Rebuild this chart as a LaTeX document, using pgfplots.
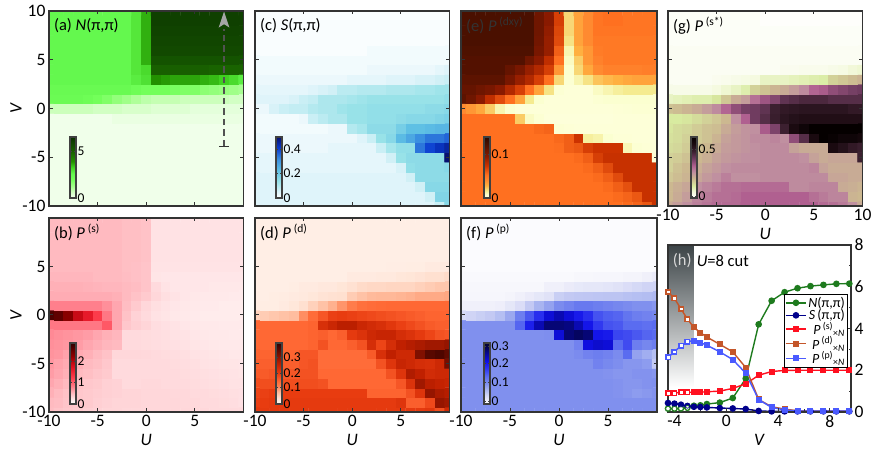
\documentclass[border=0pt]{standalone}
\usepackage{fontspec}
\setmainfont{Carlito}
\usepackage{pgfplots}
\usepackage{pgfplotstable}
\pgfplotsset{compat=1.18}
% cell values: rows V=10 ... -10, columns U=-10 ... 10 (colour levels)
\pgfplotstableread[header=false]{
26 26 26 26 26 26 26 26 26 29 36 60 60 60 60 60 60 60 60 60 60
26 26 26 26 26 26 26 26 26 29 36 60 60 60 60 60 60 60 60 60 60
26 26 26 26 26 26 26 26 26 29 36 59 59 59 59 59 59 59 59 59 59
26 26 26 26 26 26 26 26 26 29 36 58 58 58 58 58 58 58 58 58 58
26 26 26 26 26 26 26 26 26 29 36 57 57 57 57 57 57 57 57 57 57
26 26 26 26 26 26 26 26 26 29 36 54 54 54 54 54 54 54 54 54 54
26 26 26 26 26 26 26 26 26 29 31 50 50 50 50 50 50 49 49 49 49
26 26 26 26 26 26 26 26 26 28 30 39 38 37 37 37 36 35 33 31 28
24 24 24 24 24 24 24 24 24 22 20 20 20 19 18 18 16 15 14 13 12
23 23 23 23 22 20 18 15 13 11 9 8 8 8 7 7 7 7 7 6 6
7 7 7 7 7 6 6 6 5 5 5 4 4 4 4 3 3 3 3 3 3
1 1 1 1 1 1 1 2 2 2 2 2 2 2 2 2 2 2 2 2 2
1 1 1 1 1 1 1 1 1 1 1 1 1 1 1 1 1 1 1 1 1
1 1 1 1 1 1 1 1 1 1 1 1 1 1 1 1 1 1 1 1 1
1 1 1 1 1 1 1 1 1 1 1 1 1 1 1 1 1 1 1 1 1
1 1 1 1 1 1 1 1 1 1 1 1 1 1 1 1 1 1 1 1 1
1 1 1 1 1 1 1 1 1 1 1 1 1 1 1 1 1 1 1 1 1
1 1 1 1 1 1 1 1 1 1 1 1 1 1 1 1 1 1 1 1 1
1 1 1 1 1 1 1 1 1 1 1 1 1 1 1 1 1 1 1 1 1
1 1 1 1 1 1 1 1 1 1 1 1 1 1 1 1 1 1 1 1 1
1 1 1 1 1 1 1 1 1 1 1 1 1 1 1 1 1 1 1 1 1
}\tA
\pgfplotstableread[header=false]{
50 50 50 50 50 50 50 50 47 47 45 25 25 25 25 25 25 25 25 25 25
50 50 50 50 50 50 50 50 47 47 45 25 25 25 25 25 25 25 25 25 25
50 50 50 50 50 50 50 50 47 47 45 25 25 25 25 25 25 25 25 25 25
50 50 50 50 50 50 50 50 47 47 45 25 25 25 25 25 25 25 25 25 25
50 50 50 50 50 50 50 50 47 47 45 25 25 25 25 25 25 25 25 25 25
50 50 50 50 50 50 50 50 47 46 44 24 24 24 24 24 24 24 24 24 24
52 52 52 52 52 50 50 50 48 46 44 23 22 22 22 22 22 22 22 22 22
55 55 55 55 54 53 52 52 50 48 44 30 24 22 22 22 22 21 21 21 21
57 57 57 57 57 57 57 55 50 45 40 32 27 24 22 21 20 20 20 19 19
80 80 80 80 80 80 72 60 48 40 32 27 24 22 21 20 19 19 18 18 18
260 250 225 185 160 125 85 60 45 35 30 25 23 21 20 19 18 18 18 18 18
85 85 85 85 85 85 105 60 42 37 33 28 26 24 22 21 20 20 19 19 19
75 72 70 68 65 60 55 52 30 30 29 28 27 25 24 22 21 20 20 19 19
72 70 68 65 60 56 52 50 30 30 29 28 27 26 25 23 22 21 20 20 20
70 68 62 58 55 50 45 32 32 32 31 30 29 28 27 25 24 23 22 21 21
68 62 58 55 50 47 42 30 30 30 30 30 30 29 28 27 25 24 23 23 22
65 60 55 50 47 43 40 30 30 30 30 30 30 30 29 28 27 26 25 24 23
60 55 50 45 42 40 36 35 30 30 31 31 30 30 30 29 28 27 26 25 25
55 50 45 42 40 38 36 35 33 33 32 32 32 31 31 30 30 29 28 27 26
50 48 44 42 40 37 35 33 33 33 32 32 32 32 31 31 30 30 29 28 26
48 44 42 40 37 35 33 33 32 32 32 32 32 32 32 31 31 30 30 30 30
}\tB
\pgfplotstableread[header=false]{
1 1 1 1 1 1 1 1 1 1 1 1 1 1 1 1 1 1 1 1 1
1 1 1 1 1 1 1 1 1 1 1 1 1 1 1 1 1 1 1 1 1
1 1 1 1 1 1 1 1 1 1 1 1 1 1 1 1 1 1 1 1 1
1 1 1 1 1 1 1 1 1 1 1 1 1 1 1 1 1 1 1 1 1
1 1 1 1 1 1 1 1 1 1 1 1 2 2 2 2 2 2 2 2 2
2 2 2 2 2 2 2 2 2 2 2 2 2 2 2 2 2 2 2 2 2
2 2 2 2 2 2 2 2 2 2 2 2 3 3 3 3 3 3 3 4 5
3 3 3 3 3 3 3 3 3 3 4 4 4 4 5 5 5 6 6 7 8
4 4 4 4 4 4 5 6 7 10 10 11 11 11 12 12 12 13 13 14 14
5 5 5 5 6 8 9 12 12 12 13 14 15 15 15 15 15 15 15 15 16
3 3 6 8 9 9 11 12 12 14 15 15 16 16 16 16 16 16 17 17 18
2 2 2 2 2 3 8 10 12 12 15 15 16 16 16 17 18 18 18 19 20
2 2 2 2 2 2 2 2 3 3 11 13 17 17 17 21 25 25 26 27 27
3 3 3 3 3 3 3 3 3 3 3 5 8 15 18 26 30 35 38 38 40
3 3 3 3 3 3 3 3 4 4 4 4 4 8 13 16 16 38 44 47 50
4 4 4 4 4 4 4 4 4 4 4 4 4 4 7 15 17 17 17 17 55
4 4 4 4 4 4 4 4 4 4 4 4 4 4 4 6 16 17 17 17 18
5 5 5 5 5 5 5 5 5 5 5 5 5 5 5 5 7 17 17 17 17
5 5 5 5 5 5 5 5 5 5 5 5 5 5 5 5 5 7 18 18 18
5 5 5 5 5 5 5 5 5 5 5 5 5 5 5 5 5 5 7 19 19
5 5 5 5 5 5 5 5 5 5 5 5 5 5 5 5 5 5 5 8 18
}\tC
\pgfplotstableread[header=false]{
20 20 20 20 20 20 20 20 20 20 20 20 20 20 20 20 20 20 20 20 20
20 20 20 20 20 20 20 20 20 20 20 20 20 20 20 20 20 20 20 20 20
20 20 20 20 20 20 20 20 20 20 20 20 20 20 20 20 20 20 20 20 20
20 20 20 20 20 20 20 20 20 20 20 20 20 20 20 20 20 20 20 20 20
20 20 20 20 20 20 20 20 20 20 20 20 20 20 20 20 20 20 20 20 20
20 20 20 20 20 20 20 20 20 20 20 20 20 20 21 21 22 22 25 25 25
20 20 20 20 20 20 20 20 20 20 25 25 25 27 27 30 32 35 40 40 45
20 20 20 20 22 25 25 28 28 32 38 45 48 48 50 50 50 55 60 65 65
20 20 22 23 25 27 30 35 38 40 60 70 78 80 80 82 85 90 90 90 92
22 22 22 25 30 40 55 70 85 105 125 140 145 148 150 150 150 150 150 150 150
55 60 65 70 75 110 145 170 195 200 195 190 185 180 175 170 165 160 155 155 155
150 150 150 150 150 150 155 225 245 265 265 245 235 225 210 195 185 175 165 160 160
150 150 150 150 150 150 155 160 150 160 205 220 240 250 250 230 220 205 190 175 170
150 150 150 150 150 150 155 175 150 150 160 175 230 190 230 260 270 280 290 290 300
155 155 155 155 155 170 170 145 145 145 145 145 165 225 260 240 240 320 360 370 350
160 160 160 160 160 170 175 145 145 145 145 145 145 175 215 250 240 230 225 240 330
165 165 170 170 170 175 175 150 150 150 150 150 150 150 175 215 275 260 235 240 240
180 180 180 180 180 180 180 175 150 150 150 150 150 150 150 170 220 290 265 255 250
190 195 200 200 200 200 200 200 200 200 200 200 155 155 155 155 175 215 300 280 270
195 200 205 205 205 205 205 205 205 205 205 205 205 205 205 215 160 160 185 300 290
205 205 205 205 205 205 205 205 205 205 205 205 205 205 205 205 205 205 210 180 240
}\tD
\pgfplotstableread[header=false]{
150 150 150 150 150 150 150 150 130 115 85 25 40 50 62 65 65 62 62 62 62
150 150 150 150 150 150 150 150 130 115 85 25 40 50 62 65 65 62 62 62 62
150 150 150 150 150 150 150 150 130 112 82 25 40 50 62 62 62 62 62 62 62
150 150 150 150 150 150 150 150 128 110 80 22 40 50 60 60 60 60 60 60 60
148 148 148 148 148 148 148 148 125 110 72 15 35 45 58 60 60 60 60 60 60
145 145 145 145 145 145 145 130 115 95 65 12 28 45 55 60 60 60 60 60 60
145 145 145 145 145 135 125 110 100 85 45 10 25 38 50 55 55 55 55 57 57
140 140 140 140 140 125 110 100 85 65 25 8 15 22 30 33 35 38 40 40 40
135 135 130 125 115 100 85 65 40 22 8 5 5 5 12 15 18 20 20 20 20
140 130 115 95 80 65 40 20 10 5 5 5 5 5 8 10 10 10 10 10 10
50 45 38 28 15 10 5 5 5 5 5 5 5 5 5 5 6 7 8 8 8
65 65 65 65 65 65 28 12 8 4 4 4 4 4 4 4 5 5 5 5 5
65 65 65 65 65 65 65 65 68 70 8 6 5 5 5 5 5 5 5 5 5
65 65 65 65 65 65 65 65 65 65 68 72 90 18 16 10 6 6 5 5 5
65 65 65 65 65 65 65 65 65 65 66 72 75 85 90 90 90 14 8 6 5
65 65 65 65 65 65 65 65 65 65 65 65 67 72 85 92 92 92 92 92 6
65 65 65 65 65 65 65 65 65 65 65 65 65 67 72 80 92 92 92 92 92
65 65 65 65 65 65 65 65 65 65 65 65 65 65 67 72 80 92 92 92 92
65 65 65 65 65 65 65 65 65 65 65 65 65 65 65 67 72 78 92 92 92
65 65 65 65 65 65 65 65 65 65 65 65 65 65 65 65 67 70 75 92 92
65 65 65 65 65 65 65 65 65 65 65 65 65 65 65 65 65 67 70 75 92
}\tE
\pgfplotstableread[header=false]{
5 5 5 5 5 5 5 5 5 5 5 5 5 5 5 5 5 5 5 5 5
5 5 5 5 5 5 5 5 5 5 5 5 5 5 5 5 5 5 5 5 5
5 5 5 5 5 5 5 5 5 5 5 5 5 5 5 5 5 5 5 5 5
5 5 5 5 5 5 5 5 5 5 5 5 5 5 5 5 5 5 5 5 5
5 5 5 5 5 5 5 5 5 5 5 5 5 5 5 5 5 5 5 5 5
5 5 5 5 5 5 5 5 5 5 5 5 5 5 5 5 5 5 5 5 5
8 8 8 8 8 8 8 8 8 8 8 8 10 10 12 12 12 15 15 20 25
10 10 10 10 10 10 10 10 10 20 20 25 28 30 30 32 35 40 45 50 50
12 12 12 12 12 15 20 25 30 35 55 60 62 63 64 65 65 68 70 72 75
20 20 20 20 22 30 40 60 80 95 115 125 135 135 130 125 120 115 110 110 105
45 50 55 60 70 90 130 165 200 240 260 240 220 200 170 160 155 140 130 125 120
110 110 110 110 110 110 155 215 260 290 290 285 260 225 190 170 165 150 150 145 150
110 110 110 110 110 110 110 110 110 112 240 290 300 290 225 220 180 175 165 155 150
110 110 110 110 110 110 110 110 110 110 110 110 125 235 245 240 150 175 130 120 130
110 110 110 110 110 110 110 110 110 110 110 110 115 125 130 125 115 150 95 85 70
110 110 110 110 110 110 110 110 110 110 110 110 110 110 125 118 112 105 105 100 60
110 110 110 110 110 110 110 110 110 110 110 110 110 110 110 108 105 105 108 108 105
110 110 110 110 110 110 110 110 110 110 110 110 110 110 110 110 108 105 105 108 110
110 110 110 110 110 110 110 110 110 110 110 110 110 110 110 110 108 105 100 103 108
110 110 110 110 110 110 110 110 110 110 110 110 110 110 110 110 110 110 110 110 110
110 110 110 110 110 110 110 110 110 110 110 110 110 110 110 110 110 110 110 110 110
}\tF
\pgfplotstableread[header=false]{
2 2 2 2 2 2 2 2 2 2 1 1 1 1 1 1 1 1 1 1 1
2 2 2 2 2 2 2 2 2 2 1 1 1 1 1 1 1 1 1 1 1
2 2 2 2 2 2 2 2 2 2 2 2 2 2 2 2 2 2 2 2 2
2 2 2 2 2 2 2 2 2 2 2 2 2 2 2 2 2 2 2 2 2
3 3 3 3 3 3 3 3 3 3 3 3 3 3 3 3 3 3 3 3 3
3 3 3 3 3 3 3 3 3 3 3 3 3 3 3 3 3 3 3 3 3
3 3 3 3 3 3 3 3 3 3 3 3 4 4 5 5 5 6 7 9 10
3 3 3 3 3 4 5 6 7 8 12 12 12 13 14 15 16 22 24 26 28
6 6 6 6 6 8 10 12 15 22 25 28 30 33 37 44 46 50 52 54 55
12 13 14 15 15 18 24 30 33 42 48 52 58 60 62 62 62 60 60 60 60
25 26 28 30 33 37 44 50 54 55 58 65 68 69 70 70 70 70 70 68 68
17 17 18 20 22 24 27 36 45 55 60 66 70 72 73 73 73 73 73 73 73
18 20 21 23 25 26 30 33 35 36 46 53 65 75 80 85 85 85 85 85 85
19 20 22 23 25 28 32 34 35 37 37 38 36 50 60 75 85 83 80 80 78
20 21 23 25 27 30 33 34 35 36 37 37 37 32 30 30 30 75 72 68 66
22 23 25 27 29 32 34 35 36 36 37 37 37 37 36 32 30 31 31 31 65
22 25 27 29 32 34 36 37 37 37 37 37 37 37 37 38 32 30 30 30 30
24 26 28 31 34 36 39 36 36 36 37 37 37 37 37 37 37 31 31 30 30
27 29 31 36 38 40 42 42 43 43 43 43 43 37 37 38 38 38 30 29 28
27 30 33 38 40 42 42 43 45 45 45 45 45 45 45 42 40 38 38 28 27
30 33 36 39 41 43 43 43 45 45 45 45 45 45 45 45 43 42 40 36 30
}\tG
\newcommand\buildcoords[2]{%
  \gdef#2{}%
  \pgfplotsforeachungrouped \ri in {20,19,...,0}{%
    \pgfplotsforeachungrouped \ki in {0,...,20}{%
      \pgfplotstablegetelem{\ri}{[index]\ki}\of#1%
      \pgfmathtruncatemacro\xx{\ki-10}\pgfmathtruncatemacro\yy{10-\ri}%
      \xdef#2{#2 (\xx,\yy) [\pgfplotsretval]}%
    }}}
\buildcoords\tA\cA \buildcoords\tB\cB \buildcoords\tC\cC \buildcoords\tD\cD
\buildcoords\tE\cE \buildcoords\tF\cF \buildcoords\tG\cG
\newcommand\heat[1]{\edef\tmpplot{\noexpand\addplot[matrix plot*,mesh/cols=21,point meta=explicit] coordinates {#1};}\tmpplot}
\definecolor{frame}{HTML}{333333}
\definecolor{shadetop}{HTML}{3C4447}
\definecolor{cN}{HTML}{1E7B1E}
\definecolor{cS}{HTML}{00008B}
\definecolor{cPs}{HTML}{FF1020}
\definecolor{cPd}{HTML}{C4562A}
\definecolor{cPp}{HTML}{4A5AFF}
\newcommand\tk{\fontsize{17.5}{18}\selectfont}
\newcommand\ttl{\fontsize{16.5}{17}\selectfont}
\newcommand\cbf{\fontsize{13.5}{14}\selectfont}
\pgfplotsset{
 colormap={cmA}{rgb255(0)=(255,255,255) rgb255(1)=(240,255,234) rgb255(7)=(204,255,188) rgb255(13)=(160,255,136) rgb255(20)=(115,255,90) rgb255(26)=(100,248,78) rgb255(33)=(64,208,32) rgb255(39)=(34,144,0) rgb255(50)=(24,95,0) rgb255(60)=(15,64,0) rgb255(65)=(10,46,0)},
 colormap={cmB}{rgb255(0)=(255,255,255) rgb255(15)=(255,240,240) rgb255(25)=(255,226,228) rgb255(50)=(255,186,192) rgb255(80)=(255,127,140) rgb255(120)=(255,64,80) rgb255(170)=(224,16,32) rgb255(220)=(144,0,0) rgb255(280)=(48,0,0)},
 colormap={cmC}{rgb255(0)=(255,255,255) rgb255(5)=(223,244,250) rgb255(15)=(152,226,232) rgb255(25)=(95,192,228) rgb255(35)=(58,143,224) rgb255(45)=(10,60,208) rgb255(55)=(6,16,112)},
 colormap={cmD}{rgb255(0)=(255,250,246) rgb255(20)=(255,238,229) rgb255(40)=(255,224,208) rgb255(80)=(255,184,152) rgb255(120)=(255,128,80) rgb255(150)=(255,104,52) rgb255(200)=(232,60,16) rgb255(260)=(192,32,0) rgb255(320)=(128,16,0) rgb255(400)=(48,0,0)},
 colormap={cmE}{rgb255(0)=(255,255,224) rgb255(10)=(251,255,208) rgb255(20)=(245,235,144) rgb255(35)=(255,176,64) rgb255(50)=(255,138,48) rgb255(65)=(255,112,32) rgb255(90)=(204,51,0) rgb255(115)=(138,26,0) rgb255(150)=(74,16,0) rgb255(170)=(44,8,0)},
 colormap={cmF}{rgb255(0)=(255,255,255) rgb255(20)=(240,240,250) rgb255(50)=(208,212,245) rgb255(80)=(168,180,240) rgb255(110)=(128,144,238) rgb255(150)=(90,108,240) rgb255(190)=(48,56,240) rgb255(230)=(16,16,232) rgb255(270)=(8,8,160) rgb255(300)=(5,5,96) rgb255(330)=(2,2,48)},
 colormap={cmG}{rgb255(0)=(255,255,255) rgb255(8)=(245,250,224) rgb255(17)=(216,235,160) rgb255(27)=(204,184,144) rgb255(36)=(192,144,160) rgb255(45)=(176,96,144) rgb255(55)=(112,60,96) rgb255(65)=(60,32,48) rgb255(75)=(26,10,16) rgb255(85)=(5,0,0)},
 base/.style={scale only axis,axis on top,tick align=inside,
   axis line style={draw=frame,line width=1.2pt},
   tick style={draw=frame,line width=1pt},major tick length=3.5pt,
   tick label style={font=\tk},label style={font=\tk},
   /pgf/number format/assume math mode=true},
 hm/.style={base,width=194.5pt,height=195pt,xmin=-10,xmax=10,ymin=-10,ymax=10,
   xtick={-10,-5,0,5,10},ytick={-10,-5,0,5,10},
   xticklabels={},yticklabels={},
   ylabel style={at={(axis description cs:-0.17,0.5)},anchor=center}},
 xl/.style={xticklabels={-10,-5,0,5,},xlabel={\textit{U}},xtick pos=both},
 cbar/.style n args={4}{colorbar,point meta min=0,point meta max=#1,
   colorbar style={at={(parent axis.south west)},anchor=south west,
     xshift=#2,yshift=8pt,scale only axis,width=6pt,height=61pt,
     ytick={#3},yticklabels={#4},
     axis line style={draw=black!75,line width=1.3pt},
     tick style={draw=black!75,line width=.6pt},major tick length=2pt,tick align=inside,
     y tick label style={font=\cbf,inner xsep=1.5pt},
     /pgf/number format/assume math mode=true}},
}
\begin{document}
\begin{tikzpicture}[x=1pt,y=1pt]
\path[use as bounding box] (0,0) rectangle (872,460);
% (a)
\begin{axis}[hm,at={(49pt,254pt)},colormap name=cmA,cbar={65}{12.5pt}{0,50}{0,5},
  yticklabels={-10,-5,0,5,10},ylabel={\textit{V}}]
\heat\cA
\node[anchor=west,font=\ttl] at (rel axis cs:0.008,0.925) {(a) \textit{N}(π,π)};
\draw[frame!85,line width=1.5pt,dash pattern=on 6.5pt off 4pt] (axis cs:8,-3.85)--(axis cs:8,8.2);
\draw[frame,line width=1pt] (axis cs:7.5,-3.85)--(axis cs:8.5,-3.85);
\fill[black!35] (axis cs:8,9.95)--(axis cs:8.55,8.3)--(axis cs:8,8.65)--(axis cs:7.45,8.3)--cycle;
\end{axis}
% (c)
\begin{axis}[hm,at={(255pt,254pt)},colormap name=cmC,cbar={55}{12.5pt}{0,22,44}{0,0.2,0.4}]
\heat\cC
\node[anchor=west,font=\ttl] at (rel axis cs:0.008,0.925) {(c) \textit{S}(π,π)};
\end{axis}
% (e)
\begin{axis}[hm,at={(461pt,254pt)},width=196pt,colormap name=cmE,cbar={170}{14.5pt}{0,122}{0,0.1}]
\heat\cE
\node[anchor=west,font=\ttl,text=black!80] at (rel axis cs:0.008,0.925) {(e) \textit{P}\,\textsuperscript{(dxy)}};
\end{axis}
% (g)
\begin{axis}[hm,xl,xticklabels={-10,-5,0,5,10},at={(668pt,254pt)},colormap name=cmG,cbar={85}{14.5pt}{2,68}{0,0.5}]
\heat\cG
\node[anchor=west,font=\ttl] at (rel axis cs:0.008,0.925) {(g) \textit{P}\,\textsuperscript{(s*)}};
\end{axis}
% (b)
\begin{axis}[hm,xl,at={(49pt,48pt)},height=194pt,colormap name=cmB,cbar={280}{12.5pt}{0,98,195}{0,1,2},
  yticklabels={-10,-5,0,5,},ylabel={\textit{V}}]
\heat\cB
\node[anchor=west,font=\ttl] at (rel axis cs:0.008,0.925) {(b) \textit{P}\,\textsuperscript{(s)}};
\end{axis}
% (d)
\begin{axis}[hm,xl,at={(255pt,48pt)},height=194pt,colormap name=cmD,cbar={400}{12.5pt}{0,108,203,305}{0,0.1,0.2,0.3}]
\heat\cD
\node[anchor=west,font=\ttl] at (rel axis cs:0.008,0.925) {(d) \textit{P}\,\textsuperscript{(d)}};
\end{axis}
% (f)
\begin{axis}[hm,xl,at={(461pt,48pt)},width=196pt,height=194pt,colormap name=cmF,cbar={330}{14.5pt}{15,120,220,314}{0,0.1,0.2,0.3}]
\heat\cF
\node[anchor=west,font=\ttl] at (rel axis cs:0.008,0.925) {(f) \textit{P}\,\textsuperscript{(p)}};
\end{axis}
% (h)
\begin{axis}[base,at={(668pt,48pt)},width=183pt,height=167pt,
  xmin=-4.5,xmax=9.63,ymin=0,ymax=8,
  xtick={-4,0,4,8},minor xtick={-2,2,6},ytick={0,2,4,6,8},minor ytick={1,3,5,7},
  minor tick length=2.5pt,
  yticklabel pos=right,ytick pos=right,xtick pos=lower,
  xlabel={\textit{V}},clip=false,
  mark options={solid},
  legend style={at={(0.983,0.707)},anchor=north east,draw=black,line width=1pt,
    font=\fontsize{14}{14}\selectfont,inner sep=1pt,row sep=-2.2pt,fill=white,
    nodes={inner sep=1.5pt}},
  legend cell align=right,
  legend image code/.code={\draw[mark repeat=2,mark phase=2,#1] plot coordinates {(0cm,0cm)(0.36cm,0cm)(0.72cm,0cm)};},
  ]
\fill[top color=shadetop,bottom color=white] (axis cs:-4.5,8) rectangle (axis cs:-2.5,1.2);
\node[anchor=west,font=\ttl,text=black!15] at (axis cs:-4.4,7.25) {(h)};
\node[anchor=west,font=\ttl] at (axis cs:-2.55,7.25) {\textit{U}=8 cut};
\addplot[cN,line width=1.4pt,mark=*,mark size=2.6pt] coordinates {(-4.5,.16)(-4,.16)(-3.5,.17)(-3,.2)(-2.5,.3)(-2,.32)(-1.5,.38)(-.5,.45)(.5,.67)(1.5,1.6)(2.5,4.2)(3.5,5.33)(4.5,5.74)(5.5,5.93)(6.5,6.03)(7.5,6.09)(8.5,6.14)(9.5,6.15)};
\addlegendentry{\textit{N}(π,π)}
\addplot[cS,line width=1.4pt,mark=*,mark size=2.6pt] coordinates {(-4.5,.43)(-4,.4)(-3.5,.35)(-3,.29)(-2.5,.25)(-2,.24)(-1.5,.22)(-.5,.19)(.5,.17)(1.5,.14)(2.5,.05)(3.5,.03)(4.5,.03)(5.5,.03)(6.5,.03)(7.5,.03)(8.5,.03)(9.5,.03)};
\addlegendentry{\textit{S}\,(π,π)}
\addplot[cPs,line width=1.4pt,mark=square*,mark size=2.3pt] coordinates {(-4.5,.89)(-4,.91)(-3.5,.94)(-3,.94)(-2.5,.95)(-2,.95)(-1.5,.97)(-.5,1)(.5,1.13)(1.5,1.35)(2.5,1.76)(3.5,1.94)(4.5,1.99)(5.5,2)(6.5,2)(7.5,2)(8.5,2)(9.5,2)};
\addlegendentry{\textit{P}\,\textsuperscript{(s)}\textsubscript{×\textit{N}}}
\addplot[cPd,line width=1.4pt,mark=square*,mark size=2.3pt] coordinates {(-4.5,5.76)(-4,5.44)(-3.5,4.94)(-3,4.45)(-2.5,4.05)(-2,3.8)(-1.5,3.59)(-.5,3.24)(.5,2.88)(1.5,2.13)(2.5,.6)(3.5,.25)(4.5,.14)(5.5,.06)(6.5,.05)(7.5,.05)(8.5,.05)(9.5,.05)};
\addlegendentry{\textit{P}\,\textsuperscript{(d)}\textsubscript{×\textit{N}}}
\addplot[cPp,line width=1.4pt,mark=square*,mark size=2.3pt] coordinates {(-4.5,2.62)(-4,2.88)(-3.5,3.18)(-3,3.37)(-2.5,3.42)(-2,3.32)(-1.5,3.2)(-.5,2.88)(.5,2.51)(1.5,1.86)(2.5,.59)(3.5,.22)(4.5,.1)(5.5,.05)(6.5,.04)(7.5,.04)(8.5,.04)(9.5,.04)};
\addlegendentry{\textit{P}\,\textsuperscript{(p)}\textsubscript{×\textit{N}}}
\addplot[forget plot,only marks,cN,line width=.7pt,mark=*,mark size=2.3pt,mark options={fill=white}] coordinates {(-4.5,.16)(-4,.16)(-3.5,.17)(-3,.2)};
\addplot[forget plot,only marks,cS,line width=.7pt,mark=*,mark size=2.3pt,mark options={fill=white,fill opacity=0}] coordinates {(-4.5,.43)(-4,.4)(-3.5,.35)(-3,.29)};
\addplot[forget plot,only marks,cPs,line width=.7pt,mark=square*,mark size=1.9pt,mark options={fill=white}] coordinates {(-4.5,.89)(-4,.91)(-3.5,.94)(-3,.94)};
\addplot[forget plot,only marks,cPd,line width=.7pt,mark=square*,mark size=1.9pt,mark options={fill=white}] coordinates {(-4.5,5.76)(-4,5.44)(-3.5,4.94)(-3,4.45)};
\addplot[forget plot,only marks,cPp,line width=.7pt,mark=square*,mark size=1.9pt,mark options={fill=white}] coordinates {(-4.5,2.62)(-4,2.88)(-3.5,3.18)(-3,3.37)};
\end{axis}
\end{tikzpicture}
\end{document}
